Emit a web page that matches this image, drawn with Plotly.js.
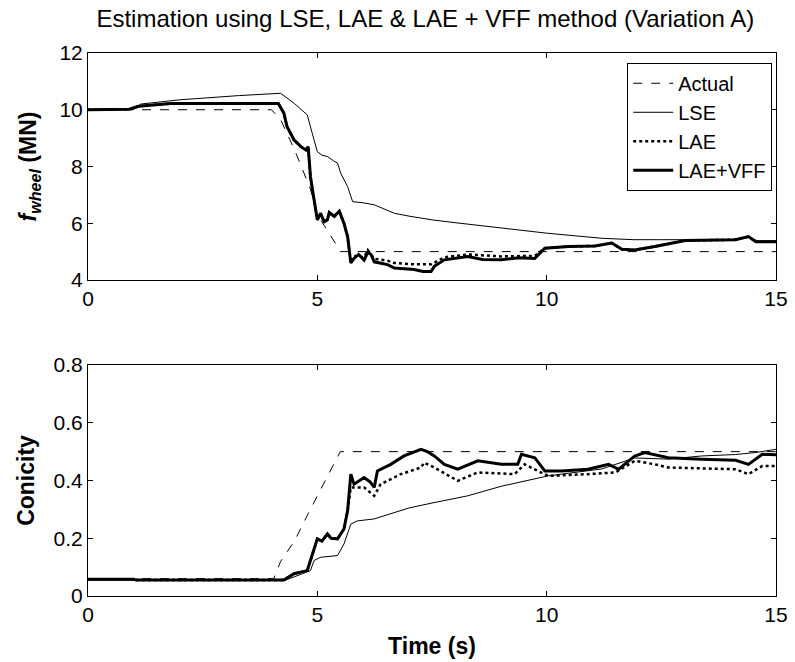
<!DOCTYPE html>
<html>
<head>
<meta charset="utf-8">
<script src="https://cdn.plot.ly/plotly-3.0.1.min.js"></script>
<style>html,body{margin:0;padding:0;background:#fff;}</style>
</head>
<body>
<div id="chart" style="width:795px;height:662px;"></div>
<script>
// ---- Top panel: wheel force (MN) ----
const tActTop = [0, 4.0, 4.2, 4.5, 4.65, 4.85, 5.0, 5.2, 5.45, 5.5, 15];
const fActual = [10, 10, 9.65, 8.6, 8.0, 7.2, 6.3, 5.8, 5.15, 5.0, 5.0];

const tLseTop = [0, 1.0, 1.15, 2.0, 3.3, 4.0, 4.2, 4.5, 4.78, 4.85, 5.0, 5.1, 5.22, 5.35, 5.44, 5.51, 5.66, 5.77, 6.0, 6.24, 6.68, 7.0, 7.5, 8.0, 9.0, 10.0, 11.2, 11.9, 12.5, 13.0, 14.0, 14.4, 14.6, 15];
const fLse = [10.0, 10.02, 10.2, 10.35, 10.5, 10.56, 10.58, 10.22, 9.82, 9.4, 8.52, 8.4, 8.35, 8.2, 8.12, 7.76, 7.29, 6.76, 6.72, 6.65, 6.35, 6.25, 6.12, 6.02, 5.83, 5.65, 5.47, 5.42, 5.42, 5.42, 5.42, 5.5, 5.38, 5.38];

const tVffTop = [0, 0.9, 1.1, 1.5, 1.8, 4.15, 4.27, 4.34, 4.49, 4.64, 4.75, 4.8, 4.85, 4.93, 5.0, 5.07, 5.15, 5.22, 5.26, 5.37, 5.48, 5.58, 5.66, 5.73, 5.8, 5.9, 6.02, 6.1, 6.17, 6.24, 6.53, 6.68, 7.11, 7.3, 7.48, 7.55, 7.77, 8.28, 8.6, 9.01, 9.4, 9.74, 9.96, 10.47, 11.05, 11.42, 11.64, 11.92, 12.36, 13.02, 13.75, 14.12, 14.4, 14.56, 15];
const fVff = [10.0, 10.02, 10.12, 10.18, 10.22, 10.22, 9.88, 9.4, 8.94, 8.7, 8.58, 8.7, 7.64, 6.82, 6.12, 6.35, 6.05, 6.12, 6.38, 6.24, 6.42, 6.0, 5.53, 4.6, 4.76, 4.9, 4.7, 4.98, 4.9, 4.64, 4.54, 4.42, 4.37, 4.3, 4.3, 4.48, 4.71, 4.83, 4.72, 4.71, 4.78, 4.76, 5.12, 5.18, 5.2, 5.3, 5.08, 5.06, 5.18, 5.39, 5.4, 5.42, 5.53, 5.35, 5.35];

const tLaeTop = [0, 0.9, 1.1, 1.5, 1.8, 4.15, 4.27, 4.34, 4.49, 4.64, 4.75, 4.8, 4.85, 4.93, 5.0, 5.07, 5.15, 5.22, 5.26, 5.37, 5.48, 5.58, 5.66, 5.73, 5.8, 6.02, 6.1, 6.24, 6.53, 6.68, 7.11, 7.48, 7.77, 8.28, 9.01, 9.74, 9.96, 10.47, 11.05, 11.42, 11.64, 11.92, 12.36, 13.02, 13.75, 14.12, 14.4, 14.56, 15];
const fLae = [10.0, 10.02, 10.12, 10.18, 10.22, 10.22, 9.88, 9.4, 8.94, 8.7, 8.58, 8.7, 7.64, 6.82, 6.12, 6.35, 6.05, 6.12, 6.38, 6.24, 6.42, 6.0, 5.53, 4.62, 4.85, 4.8, 5.05, 4.75, 4.68, 4.6, 4.55, 4.55, 4.8, 4.9, 4.83, 4.85, 5.12, 5.18, 5.2, 5.3, 5.08, 5.06, 5.18, 5.39, 5.4, 5.42, 5.53, 5.35, 5.35];

// ---- Bottom panel: conicity ----
const tActBot = [0, 4.05, 4.2, 4.5, 4.8, 5.0, 5.22, 5.5, 15];
const cActual = [0.06, 0.06, 0.12, 0.19, 0.285, 0.345, 0.415, 0.5, 0.5];

const tLseBot = [0, 4.3, 4.49, 4.85, 4.93, 5.07, 5.44, 5.58, 5.73, 5.87, 6.24, 6.68, 7.0, 7.5, 8.28, 9.01, 10.03, 11.2, 11.92, 12.65, 13.38, 14.12, 14.56, 15];
const cLse = [0.055, 0.055, 0.066, 0.088, 0.123, 0.134, 0.14, 0.18, 0.249, 0.26, 0.267, 0.29, 0.305, 0.322, 0.347, 0.38, 0.416, 0.44, 0.478, 0.474, 0.485, 0.49, 0.497, 0.508];

const tVffBot = [0, 1.0, 1.05, 4.27, 4.49, 4.78, 4.85, 5.0, 5.1, 5.22, 5.3, 5.44, 5.58, 5.66, 5.73, 5.8, 6.02, 6.15, 6.24, 6.31, 6.6, 6.89, 7.26, 7.4, 7.55, 7.77, 8.06, 8.5, 9.01, 9.37, 9.45, 9.74, 9.96, 10.32, 10.9, 11.35, 11.57, 11.92, 12.14, 12.65, 13.38, 14.12, 14.4, 14.7, 15];
const cVff = [0.058, 0.058, 0.055, 0.055, 0.077, 0.088, 0.123, 0.198, 0.19, 0.215, 0.2, 0.198, 0.232, 0.295, 0.422, 0.387, 0.41, 0.395, 0.376, 0.433, 0.456, 0.485, 0.508, 0.5, 0.485, 0.456, 0.439, 0.468, 0.456, 0.456, 0.491, 0.479, 0.433, 0.433, 0.439, 0.456, 0.439, 0.485, 0.497, 0.479, 0.474, 0.47, 0.456, 0.491, 0.489];

const tLaeBot = [0, 1.0, 1.05, 4.27, 4.49, 4.78, 4.85, 5.0, 5.1, 5.22, 5.3, 5.44, 5.58, 5.66, 5.73, 6.02, 6.24, 6.38, 6.82, 7.26, 7.33, 7.55, 8.06, 8.5, 9.3, 9.52, 9.81, 10.03, 10.9, 11.5, 11.92, 12.36, 12.65, 14.12, 14.4, 14.7, 15];
const cLae = [0.058, 0.058, 0.055, 0.055, 0.077, 0.088, 0.123, 0.198, 0.19, 0.215, 0.2, 0.198, 0.232, 0.295, 0.376, 0.376, 0.347, 0.387, 0.422, 0.445, 0.462, 0.445, 0.399, 0.428, 0.422, 0.456, 0.433, 0.416, 0.422, 0.428, 0.468, 0.456, 0.445, 0.439, 0.422, 0.45, 0.45];

const names = ['Actual', 'LSE', 'LAE', 'LAE+VFF'];
const FONT = 'Liberation Sans, Arial, sans-serif';

const styles = [
  {color: '#000', width: 1, dash: 'dash'},
  {color: '#000', width: 1, dash: 'solid'},
  {color: '#000', width: 2.5, dash: 'dot'},
  {color: '#000', width: 3, dash: 'solid'}
];

const topSeries = [[tActTop, fActual], [tLseTop, fLse], [tLaeTop, fLae], [tVffTop, fVff]];
const botSeries = [[tActBot, cActual], [tLseBot, cLse], [tLaeBot, cLae], [tVffBot, cVff]];

const traces = [];
topSeries.forEach((s, i) => traces.push({
  x: s[0], y: s[1], name: names[i], type: 'scatter', mode: 'lines',
  line: styles[i], xaxis: 'x', yaxis: 'y', showlegend: true
}));
botSeries.forEach((s, i) => traces.push({
  x: s[0], y: s[1], name: names[i], type: 'scatter', mode: 'lines',
  line: styles[i], xaxis: 'x2', yaxis: 'y2', showlegend: false
}));

const axisCommon = {
  showline: true, linecolor: '#000', linewidth: 1, mirror: 'allticks',
  ticks: 'inside', ticklen: 5, tickcolor: '#000', showgrid: false, zeroline: false,
  tickfont: {family: FONT, size: 21, color: '#000'}
};

const layout = {
  width: 795, height: 662,
  margin: {l: 88, r: 19, t: 53, b: 66},
  paper_bgcolor: '#fff', plot_bgcolor: '#fff',
  font: {family: FONT, color: '#000'},
  title: {text: 'Estimation using LSE, LAE & LAE + VFF method (Variation A)',
          font: {family: FONT, size: 24, color: '#000'}, x: 0.535, xanchor: 'center', y: 0.972, yanchor: 'middle'},
  xaxis: Object.assign({}, axisCommon, {domain: [0, 1], range: [0, 15], tickvals: [0, 5, 10, 15], anchor: 'y'}),
  yaxis: Object.assign({}, axisCommon, {domain: [0.582, 1], range: [4, 12], tickvals: [4, 6, 8, 10, 12], anchor: 'x',
    title: {text: '<b><i>f</i><sub><i>wheel</i></sub> (MN)</b>', font: {family: FONT, size: 23, color: '#000'}, standoff: 16}}),
  xaxis2: Object.assign({}, axisCommon, {domain: [0, 1], range: [0, 15], tickvals: [0, 5, 10, 15], anchor: 'y2',
    title: {text: '<b>Time (s)</b>', font: {family: FONT, size: 23, color: '#000'}, standoff: 12}}),
  yaxis2: Object.assign({}, axisCommon, {domain: [0, 0.4254], range: [0, 0.8], tickvals: [0, 0.2, 0.4, 0.6, 0.8], anchor: 'x2',
    title: {text: '<b>Conicity</b>', font: {family: FONT, size: 23, color: '#000'}, standoff: 12}}),
  legend: {x: 0.9945, xanchor: 'right', y: 0.982, yanchor: 'top',
    bgcolor: '#fff', bordercolor: '#000', borderwidth: 1,
    font: {family: FONT, size: 20, color: '#000'}, tracegroupgap: 0, itemwidth: 40},
  showlegend: true
};

Plotly.newPlot('chart', traces, layout, {staticPlot: true, displayModeBar: false});
</script>
</body>
</html>
